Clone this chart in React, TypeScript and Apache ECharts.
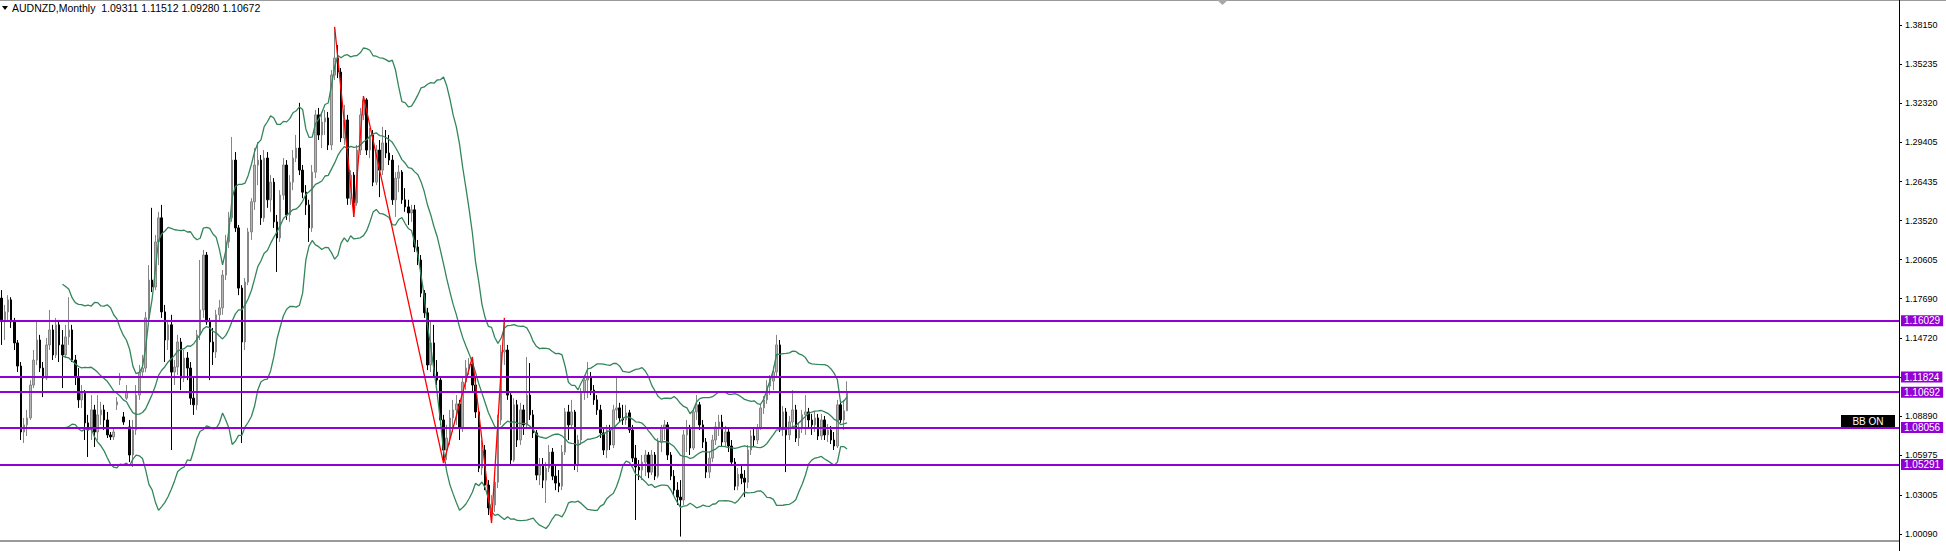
import React, { useEffect, useRef } from "react";
import * as echarts from "echarts";

// ---- data ----
const symbolTitle = "AUDNZD,Monthly";
const lastQuote = ["1.09311", "1.11512", "1.09280", "1.10672"];

const yTicks = [1.3815, 1.35235, 1.3232, 1.29405, 1.26435, 1.2352, 1.20605, 1.1769, 1.1472, 1.11805, 1.0889, 1.05975, 1.03005, 1.0009];

const levels = [1.16029, 1.11824, 1.10692, 1.08056, 1.05291];

// monthly candles: [open, close, low, high]
const candles: number[][] = [
  [1.1773, 1.161, 1.1423, 1.1833], [1.161, 1.167, 1.146, 1.1722], [1.167, 1.176, 1.1595, 1.1795], [1.176, 1.1595, 1.155, 1.178], [1.1595, 1.1438, 1.1385, 1.1625],
  [1.1438, 1.1265, 1.122, 1.146], [1.1265, 1.0772, 1.0712, 1.1295], [1.0772, 1.0825, 1.069, 1.0877], [1.0825, 1.0877, 1.0742, 1.0937], [1.0877, 1.1123, 1.0862, 1.116],
  [1.1123, 1.131, 1.11, 1.1385], [1.131, 1.146, 1.1273, 1.1595], [1.146, 1.125, 1.122, 1.1498], [1.125, 1.1175, 1.1033, 1.1295], [1.1175, 1.1423, 1.116, 1.1475],
  [1.1423, 1.1535, 1.1385, 1.1685], [1.1535, 1.1348, 1.131, 1.1573], [1.1348, 1.1573, 1.1325, 1.1625], [1.1573, 1.1423, 1.1295, 1.161], [1.1423, 1.1348, 1.11, 1.1535],
  [1.1348, 1.1483, 1.1325, 1.1573], [1.1483, 1.1535, 1.1423, 1.178], [1.1535, 1.131, 1.1295, 1.1573], [1.131, 1.1183, 1.1123, 1.1348], [1.1183, 1.1012, 1.0952, 1.125],
  [1.1012, 1.1063, 1.0952, 1.1123], [1.1063, 1.084, 1.0712, 1.1085], [1.084, 1.0787, 1.0585, 1.09], [1.0787, 1.0937, 1.0712, 1.1048], [1.0937, 1.0772, 1.066, 1.0975],
  [1.0772, 1.09, 1.0712, 1.1048], [1.09, 1.0937, 1.0825, 1.0997], [1.0937, 1.0862, 1.0787, 1.0975], [1.0862, 1.075, 1.0727, 1.0922], [1.075, 1.0735, 1.0712, 1.0772],
  [1.0735, 1.0772, 1.0712, 1.0802], [1.0975, 1.0997, 1.0937, 1.1033], [1.116, 1.1175, 1.1123, 1.1213], [1.0885, 1.0847, 1.0825, 1.0922], [1.1025, 1.107, 1.1012, 1.1123],
  [1.081, 1.06, 1.0547, 1.0862], [1.06, 1.0787, 1.051, 1.0862], [1.0787, 1.1048, 1.075, 1.1123], [1.1048, 1.122, 1.1012, 1.1273], [1.122, 1.125, 1.1175, 1.1348],
  [1.125, 1.1625, 1.122, 1.167], [1.1625, 1.1908, 1.1595, 1.202], [1.1908, 1.1856, 1.1818, 1.2448], [1.1856, 1.2193, 1.1833, 1.2245], [1.2193, 1.2373, 1.202, 1.2418],
  [1.2373, 1.167, 1.1625, 1.247], [1.167, 1.146, 1.1295, 1.1722], [1.146, 1.1573, 1.1385, 1.161], [1.1573, 1.122, 1.0637, 1.1648], [1.122, 1.1258, 1.1123, 1.131],
  [1.1258, 1.1445, 1.1198, 1.1498], [1.1445, 1.1175, 1.1085, 1.1475], [1.1175, 1.1325, 1.1145, 1.1385], [1.1325, 1.125, 1.116, 1.137], [1.125, 1.1025, 1.0975, 1.1295],
  [1.1025, 1.0975, 1.09, 1.1175], [1.0975, 1.1498, 1.0937, 1.1535], [1.1498, 1.1685, 1.146, 1.2058], [1.1685, 1.2095, 1.1625, 1.2133], [1.2095, 1.1595, 1.1573, 1.2118],
  [1.1595, 1.1445, 1.116, 1.1625], [1.1445, 1.137, 1.1273, 1.155], [1.137, 1.1648, 1.1325, 1.1685], [1.1648, 1.17, 1.1595, 1.176], [1.17, 1.1945, 1.1648, 1.1983],
  [1.1945, 1.2193, 1.1908, 1.2245], [1.2193, 1.2373, 1.2148, 1.2418], [1.2373, 1.2805, 1.2343, 1.2978], [1.2805, 1.2298, 1.2268, 1.2865], [1.2298, 1.1848, 1.1795, 1.232],
  [1.1848, 1.1445, 1.069, 1.187], [1.1445, 1.1893, 1.1385, 1.1923], [1.1893, 1.2268, 1.187, 1.2298], [1.2268, 1.2493, 1.2208, 1.252], [1.2493, 1.2768, 1.2433, 1.2895],
  [1.2768, 1.2805, 1.2618, 1.294], [1.2805, 1.2373, 1.232, 1.2843], [1.2373, 1.282, 1.2343, 1.288], [1.282, 1.2508, 1.2448, 1.2865], [1.2508, 1.264, 1.2418, 1.2693],
  [1.264, 1.2343, 1.2298, 1.267], [1.2343, 1.2223, 1.1968, 1.2395], [1.2223, 1.2543, 1.2193, 1.258], [1.2543, 1.2768, 1.2508, 1.282], [1.2768, 1.2395, 1.2358, 1.2805],
  [1.2395, 1.264, 1.2343, 1.2693], [1.264, 1.282, 1.258, 1.288], [1.282, 1.2895, 1.279, 1.2993], [1.2895, 1.273, 1.2693, 1.3233], [1.273, 1.2565, 1.252, 1.2768],
  [1.2565, 1.247, 1.2395, 1.2618], [1.247, 1.2298, 1.2193, 1.2508], [1.2298, 1.2715, 1.2268, 1.2768], [1.2715, 1.3143, 1.267, 1.318], [1.3143, 1.2993, 1.2955, 1.3195],
  [1.2993, 1.309, 1.2895, 1.3165], [1.309, 1.312, 1.2993, 1.318], [1.312, 1.2918, 1.288, 1.3165], [1.2918, 1.3441, 1.288, 1.3478], [1.3441, 1.3568, 1.3403, 1.3801],
  [1.3568, 1.3463, 1.3418, 1.3666], [1.3463, 1.297, 1.294, 1.3493], [1.297, 1.3105, 1.2918, 1.3218], [1.3105, 1.252, 1.247, 1.3143], [1.252, 1.2693, 1.247, 1.273],
  [1.2693, 1.2485, 1.238, 1.2715], [1.2485, 1.288, 1.2463, 1.2918], [1.288, 1.3143, 1.2843, 1.3195], [1.3143, 1.3255, 1.3105, 1.3283], [1.3255, 1.288, 1.2843, 1.3268],
  [1.288, 1.2993, 1.282, 1.3045], [1.2993, 1.264, 1.261, 1.303], [1.264, 1.288, 1.2618, 1.2918], [1.288, 1.273, 1.2528, 1.2955], [1.273, 1.2933, 1.2693, 1.3053],
  [1.2933, 1.2858, 1.282, 1.303], [1.2858, 1.2805, 1.2768, 1.2993], [1.2805, 1.2508, 1.247, 1.2843], [1.2508, 1.267, 1.238, 1.2715], [1.267, 1.2715, 1.2565, 1.2768],
  [1.2715, 1.2508, 1.2478, 1.273], [1.2508, 1.2455, 1.2418, 1.2595], [1.2455, 1.241, 1.232, 1.2508], [1.241, 1.2433, 1.2343, 1.247], [1.2433, 1.2155, 1.2118, 1.247],
  [1.2155, 1.2058, 1.202, 1.2208], [1.2058, 1.181, 1.178, 1.2095], [1.181, 1.1663, 1.1625, 1.1833], [1.1663, 1.1273, 1.1235, 1.17], [1.1273, 1.1438, 1.122, 1.161],
  [1.1438, 1.122, 1.119, 1.1573], [1.122, 1.116, 1.1123, 1.131], [1.116, 1.0862, 1.0825, 1.119], [1.0862, 1.0637, 1.054, 1.09], [1.0637, 1.0727, 1.0562, 1.0825],
  [1.0727, 1.0877, 1.0675, 1.0937], [1.0877, 1.0937, 1.0772, 1.1012], [1.0937, 1.0982, 1.0825, 1.1048], [1.0982, 1.0802, 1.0712, 1.1012], [1.0802, 1.1145, 1.0772, 1.1175],
  [1.1145, 1.125, 1.1085, 1.131], [1.125, 1.128, 1.1198, 1.1325], [1.128, 1.1123, 1.107, 1.1333], [1.1123, 1.0922, 1.0877, 1.1175], [1.0922, 1.0502, 1.0472, 1.0952],
  [1.0502, 1.0637, 1.045, 1.0712], [1.0637, 1.0375, 1.0337, 1.0675], [1.0375, 1.0204, 1.0151, 1.0412], [1.0204, 1.0226, 1.0091, 1.03], [1.0226, 1.0397, 1.0174, 1.0427],
  [1.0397, 1.0862, 1.0352, 1.09], [1.0862, 1.137, 1.0825, 1.1423], [1.137, 1.1385, 1.1273, 1.1625], [1.1385, 1.1048, 1.1012, 1.1423], [1.1048, 1.0562, 1.0525, 1.107],
  [1.0562, 1.0975, 1.0547, 1.1025], [1.0975, 1.0712, 1.066, 1.1012], [1.0712, 1.0937, 1.0675, 1.099], [1.0937, 1.0825, 1.075, 1.0975], [1.0825, 1.1048, 1.0802, 1.1333],
  [1.1048, 1.09, 1.0862, 1.1288], [1.09, 1.0765, 1.0727, 1.0937], [1.0765, 1.045, 1.0412, 1.0787], [1.045, 1.0525, 1.0375, 1.0577], [1.0525, 1.0412, 1.0352, 1.0577],
  [1.0412, 1.0502, 1.0241, 1.0547], [1.0502, 1.0622, 1.0472, 1.0675], [1.0622, 1.0442, 1.0412, 1.0652], [1.0442, 1.039, 1.0337, 1.0525], [1.039, 1.0367, 1.0322, 1.0487],
  [1.0367, 1.0622, 1.0337, 1.0675], [1.0622, 1.0922, 1.06, 1.0952], [1.0922, 1.0825, 1.0712, 1.0975], [1.0825, 1.0922, 1.0802, 1.1012], [1.0922, 1.0525, 1.0487, 1.0937],
  [1.0525, 1.0712, 1.0472, 1.075], [1.0712, 1.107, 1.0675, 1.11], [1.107, 1.116, 1.1012, 1.1198], [1.116, 1.1175, 1.1025, 1.1295], [1.1175, 1.1085, 1.1048, 1.122],
  [1.1085, 1.1012, 1.0975, 1.1123], [1.1012, 1.0937, 1.09, 1.1048], [1.0937, 1.0765, 1.0727, 1.0975], [1.0765, 1.0637, 1.06, 1.0802], [1.0637, 1.0787, 1.0577, 1.0825],
  [1.0787, 1.0675, 1.0637, 1.0825], [1.0675, 1.0937, 1.0652, 1.0975], [1.0937, 1.0952, 1.0862, 1.1183], [1.0952, 1.0877, 1.0847, 1.099], [1.0877, 1.0862, 1.0825, 1.0975],
  [1.0862, 1.0915, 1.0825, 1.0975], [1.0915, 1.0787, 1.0765, 1.0937], [1.0787, 1.0577, 1.0547, 1.0825], [1.0577, 1.051, 1.0114, 1.0675], [1.051, 1.0487, 1.0412, 1.0562],
  [1.0487, 1.0547, 1.0412, 1.06], [1.0547, 1.06, 1.0442, 1.0637], [1.06, 1.0472, 1.0427, 1.0622], [1.0472, 1.06, 1.045, 1.0637], [1.06, 1.0442, 1.0412, 1.0622],
  [1.0442, 1.0697, 1.0427, 1.0727], [1.0697, 1.0802, 1.0622, 1.0825], [1.0802, 1.0825, 1.0712, 1.0862], [1.0825, 1.06, 1.0562, 1.0847], [1.06, 1.0442, 1.0412, 1.0622],
  [1.0442, 1.0337, 1.03, 1.0487], [1.0337, 1.0285, 1.0226, 1.0397], [1.0285, 1.0264, 0.999, 1.0412], [1.0264, 1.075, 1.0226, 1.0787], [1.075, 1.0802, 1.0622, 1.0862],
  [1.0802, 1.0652, 1.06, 1.0825], [1.0652, 1.0922, 1.0637, 1.0952], [1.0922, 1.0975, 1.0862, 1.1048], [1.0975, 1.0825, 1.0787, 1.0997], [1.0825, 1.0697, 1.0652, 1.0862],
  [1.0697, 1.0472, 1.0427, 1.0727], [1.0472, 1.0577, 1.0427, 1.0622], [1.0577, 1.0712, 1.0547, 1.075], [1.0712, 1.081, 1.0675, 1.0847], [1.081, 1.0847, 1.0742, 1.09],
  [1.0847, 1.0697, 1.066, 1.09], [1.0697, 1.0772, 1.0667, 1.0817], [1.0772, 1.0667, 1.0622, 1.0802], [1.0667, 1.0547, 1.0517, 1.0712], [1.0547, 1.0367, 1.0337, 1.0577],
  [1.0367, 1.0457, 1.0337, 1.0502], [1.0457, 1.0427, 1.0382, 1.0517], [1.0427, 1.0397, 1.0285, 1.0487], [1.0397, 1.0637, 1.0352, 1.0675], [1.0637, 1.0742, 1.06, 1.0787],
  [1.0742, 1.0712, 1.0667, 1.0802], [1.0712, 1.0802, 1.0682, 1.0832], [1.0802, 1.0952, 1.0787, 1.0982], [1.0952, 1.1012, 1.0907, 1.104], [1.1012, 1.1115, 1.0982, 1.116],
  [1.1115, 1.1153, 1.1048, 1.1198], [1.1153, 1.122, 1.1085, 1.1265], [1.122, 1.1423, 1.1175, 1.1498], [1.1423, 1.0802, 1.0772, 1.146], [1.0802, 1.0922, 1.0742, 1.0967],
  [1.0922, 1.075, 1.0472, 1.0952], [1.075, 1.0847, 1.0712, 1.0892], [1.0847, 1.0937, 1.0802, 1.1085], [1.0937, 1.0727, 1.0697, 1.0975], [1.0727, 1.0802, 1.0667, 1.0847],
  [1.0802, 1.09, 1.0765, 1.0937], [1.09, 1.0922, 1.075, 1.1048], [1.0922, 1.0862, 1.0802, 1.0952], [1.0862, 1.0825, 1.075, 1.0907], [1.0825, 1.0877, 1.0772, 1.0922],
  [1.0877, 1.0742, 1.0712, 1.0907], [1.0742, 1.0862, 1.0712, 1.0907], [1.0862, 1.075, 1.0712, 1.0892], [1.075, 1.0787, 1.0697, 1.0832], [1.0787, 1.0712, 1.0682, 1.0817],
  [1.0712, 1.0667, 1.0637, 1.0772], [1.0667, 1.0975, 1.0652, 1.1012], [1.0975, 1.0862, 1.084, 1.1012], [1.0862, 1.093, 1.0787, 1.1012], [1.09311, 1.10672, 1.0928, 1.11512],
];

// zigzag pivots: [candle index, which extreme]
const zigzagPivots: [number, "high" | "low"][] = [
  [104, "high"], [110, "low"], [113, "high"], [138, "low"], [147, "high"], [153, "low"], [157, "high"],
];

const bbPeriod = 20;
const bbDeviation = 2;

// ---- layout constants ----
const W = 1946;
const H = 551;
const SLOTS = 593; // visible bar slots across the plot area

function bollinger(closes: number[], period: number, k: number) {
  const up: (number | null)[] = [];
  const mid: (number | null)[] = [];
  const lo: (number | null)[] = [];
  closes.forEach((_, i) => {
    if (i < period - 1) {
      up.push(null); mid.push(null); lo.push(null);
      return;
    }
    const w = closes.slice(i - period + 1, i + 1);
    const m = w.reduce((a, b) => a + b, 0) / period;
    const sd = Math.sqrt(w.reduce((a, b) => a + (b - m) * (b - m), 0) / period);
    up.push(m + k * sd); mid.push(m); lo.push(m - k * sd);
  });
  return { up, mid, lo };
}

export default function App() {
  const ref = useRef<HTMLDivElement>(null);

  useEffect(() => {
    document.body.style.margin = "0";
    if (!ref.current) return;
    const chart = echarts.init(ref.current, undefined, { renderer: "svg" });

    const closes = candles.map((c) => c[1]);
    const bb = bollinger(closes, bbPeriod, bbDeviation);
    const cats = Array.from({ length: SLOTS }, (_, i) => String(i));
    const zz = zigzagPivots.map(([i, kind]) => [i, kind === "high" ? candles[i][3] : candles[i][2]]);

    const green = "#33865a";
    const purple = "#9400d3";
    const font = "Liberation Sans";

    chart.setOption({
      animation: false,
      backgroundColor: "#ffffff",
      grid: { left: 0, right: 47, top: 2, bottom: 11 },
      xAxis: {
        type: "category",
        data: cats,
        boundaryGap: true,
        show: false,
      },
      yAxis: {
        type: "value",
        position: "right",
        min: 0.99644,
        max: 1.3987,
        axisLine: { show: true, lineStyle: { color: "#000", width: 1 } },
        axisTick: { show: true, customValues: yTicks, length: 3, lineStyle: { color: "#000" } },
        axisLabel: {
          customValues: yTicks,
          formatter: (v: number) => v.toFixed(5),
          fontSize: 9,
          color: "#000",
          margin: 6,
          fontFamily: font,
        },
        splitLine: { show: false },
      },
      series: [
        {
          type: "candlestick",
          data: candles,
          barWidth: 2,
          itemStyle: {
            color: "#b4b4b4",
            color0: "#000000",
            borderColor: "#858585",
            borderColor0: "#000000",
            borderColorDoji: "#666666",
            borderWidth: 1,
          },
          silent: true,
        },
        { type: "line", data: bb.up, symbol: "none", lineStyle: { color: green, width: 1.3 }, silent: true, z: 3 },
        { type: "line", data: bb.mid, symbol: "none", lineStyle: { color: green, width: 1.3 }, silent: true, z: 3 },
        { type: "line", data: bb.lo, symbol: "none", lineStyle: { color: green, width: 1.3 }, silent: true, z: 3 },
        {
          type: "line",
          data: zz,
          symbol: "none",
          lineStyle: { color: "#ff0000", width: 1.3 },
          silent: true,
          z: 4,
          markLine: {
            silent: true,
            precision: 5,
            symbol: ["none", "none"],
            animation: false,
            lineStyle: { color: purple, width: 2, type: "solid" },
            label: {
              show: true,
              position: "end",
              distance: 2,
              formatter: (p: any) => Number(p.value).toFixed(5),
              backgroundColor: purple,
              color: "#ffffff",
              fontSize: 10,
              fontFamily: font,
              padding: [1, 3, 0, 3],
            },
            data: levels.map((v) => ({ yAxis: v })),
          },
        },
      ],
      graphic: [
        { type: "rect", shape: { x: 0, y: 0, width: W, height: 1 }, style: { fill: "#9a9a9a" }, silent: true },
        { type: "rect", shape: { x: 0, y: 540, width: 1900, height: 2 }, style: { fill: "#9a9a9a" }, silent: true },
        { type: "line", shape: { x1: 1899.5, y1: 0, x2: 1899.5, y2: H }, style: { stroke: "#000", lineWidth: 1 }, silent: true },
        { type: "polygon", shape: { points: [[1217, 0], [1228, 0], [1222.5, 5]] }, style: { fill: "#a8a8a8" }, silent: true },
        { type: "polygon", shape: { points: [[2, 6], [8, 6], [5, 10]] }, style: { fill: "#000" }, silent: true },
        {
          type: "text",
          x: 12,
          y: 2,
          style: {
            text: symbolTitle + "  " + lastQuote.join(" "),
            fontSize: 10.5,
            fontFamily: font,
            fill: "#000",
          },
          silent: true,
        },
        {
          type: "group",
          x: 1841,
          y: 415,
          children: [
            { type: "rect", shape: { x: 0, y: 0, width: 54, height: 13 }, style: { fill: "#000" } },
            {
              type: "text",
              x: 27,
              y: 6.5,
              style: { text: "BB ON", fontSize: 10, fontFamily: font, fill: "#fff", align: "center", verticalAlign: "middle" },
            },
          ],
          silent: true,
        },
      ],
    });

    return () => chart.dispose();
  }, []);

  return <div ref={ref} style={{ width: W, height: H }} />;
}
